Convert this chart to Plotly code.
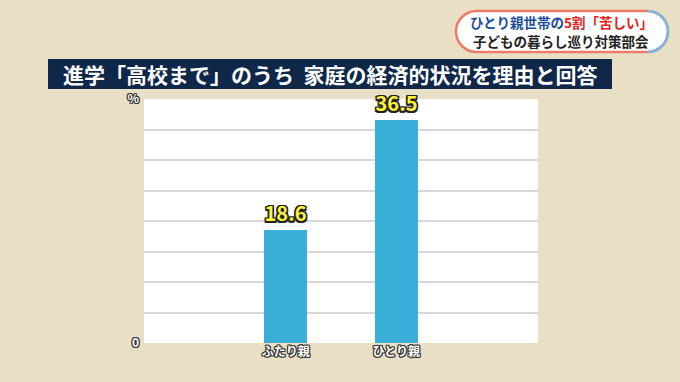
import plotly.graph_objects as go

# ---- data ----
categories = ["ふたり親", "ひとり親"]
values = [18.6, 36.5]
y_tick_values = [0, 5, 10, 15, 20, 25, 30, 35, 40]
y_tick_labels = ["0", "", "", "", "", "", "", "", "%"]
banner_title = "進学「高校まで」のうち\u00a0\u00a0家庭の経済的状況を理由と回答"
corner_line1_blue = "ひとり親世帯の"
corner_line1_red = "5割「苦しい」"
corner_line2 = "子どもの暮らし巡り対策部会"

W, H = 680, 382
L, R, T, B = 144, 538, 99, 343  # plot area in px
BG = "#E8DFC4"

def px(x):
    return (x - L) / (R - L)

def py(y):
    return (B - y) / (B - T)

FONT = "Noto Sans CJK JP"
outline = ("1px 1px 0 #333, -1px -1px 0 #333, 1px -1px 0 #333, -1px 1px 0 #333, "
           "0 1px 0 #333, 0 -1px 0 #333, 1px 0 0 #333, -1px 0 0 #333")
thick = ("1.5px 1.5px 0 #222, -1.5px -1.5px 0 #222, 1.5px -1.5px 0 #222, -1.5px 1.5px 0 #222, "
         "0 1.5px 0 #222, 0 -1.5px 0 #222, 1.5px 0 0 #222, -1.5px 0 0 #222")

fig = go.Figure()
fig.add_trace(go.Bar(
    x=categories, y=values,
    marker=dict(color="#38AED8", line=dict(width=0)),
    width=0.39,
    text=[f"{v:.1f}" for v in values],
    textposition="outside",
    cliponaxis=False,
    hoverinfo="skip",
    textfont=dict(family=FONT, size=20, color="#FFF23C", weight="bold", shadow=thick),
))

fig.update_layout(
    width=W, height=H,
    margin=dict(l=L, r=W - R, t=T, b=H - B, pad=0),
    paper_bgcolor=BG,
    plot_bgcolor="#FFFFFF",
    showlegend=False,
    bargap=0,
    xaxis=dict(
        range=[-1.283, 2.283], showgrid=False, zeroline=False, showline=False,
        ticks="", tickfont=dict(family=FONT, size=12, color="#FFFFFF", weight="bold", shadow=outline),
    ),
    yaxis=dict(
        range=[0, 40], tickvals=y_tick_values, ticktext=y_tick_labels,
        showgrid=True, gridcolor="#D8D8D8", gridwidth=1.5, zeroline=False, showline=False,
        ticks="", ticklabelstandoff=4,
        tickfont=dict(family=FONT, size=12, color="#FFFFFF", weight="bold", shadow=outline),
    ),
)

# banner
fig.add_shape(type="rect", xref="paper", yref="paper",
              x0=px(48), x1=px(612), y0=py(89), y1=py(59),
              fillcolor="#0F2749", line=dict(width=0), layer="above")
fig.add_annotation(xref="paper", yref="paper", x=px(330), y=py(74),
                   text=banner_title, showarrow=False, xanchor="center", yanchor="middle",
                   font=dict(family=FONT, size=21, color="#FFFFFF", weight="bold"))

# corner pill (pixel-sized path anchored at pill centre)
cx, cy = (456 + 668) / 2, (11 + 52) / 2
hw, hh = (668 - 456) / 2, (52 - 11) / 2
r = hh
k = 0.5523 * r
pill = (f"M{-hw + r},{hh} L{hw - r},{hh} "
        f"C{hw - r + k},{hh} {hw},{k} {hw},0 "
        f"C{hw},{-k} {hw - r + k},{-hh} {hw - r},{-hh} "
        f"L{-hw + r},{-hh} "
        f"C{-hw + r - k},{-hh} {-hw},{-k} {-hw},0 "
        f"C{-hw},{k} {-hw + r - k},{hh} {-hw + r},{hh} Z")
fig.add_shape(type="path", xref="paper", yref="paper",
              xsizemode="pixel", ysizemode="pixel", xanchor=px(cx), yanchor=py(cy),
              path=pill, fillcolor="#FFFFFF", line=dict(color="#EC7B6B", width=2.5))
arc = (f"M{hw - r},{hh} C{hw - r + k},{hh} {hw},{k} {hw},0 "
       f"C{hw},{-k} {hw - r + k},{-hh} {hw - r},{-hh}")
fig.add_shape(type="path", xref="paper", yref="paper",
              xsizemode="pixel", ysizemode="pixel", xanchor=px(cx), yanchor=py(cy),
              path=arc, line=dict(color="#7CB7E0", width=2.5))
fig.add_annotation(xref="paper", yref="paper", x=px(561), y=py(22),
                   text=f"<span style='color:#1D4E9E'>{corner_line1_blue}</span><span style='color:#E2231A'>{corner_line1_red}</span>",
                   showarrow=False, xanchor="center", yanchor="middle",
                   font=dict(family=FONT, size=13.5, weight="bold"))
fig.add_annotation(xref="paper", yref="paper", x=px(561), y=py(41),
                   text=corner_line2, showarrow=False, xanchor="center", yanchor="middle",
                   font=dict(family=FONT, size=13.5, color="#222222", weight="bold"))

fig.write_html(
    "out.html",
    config={"displayModeBar": False},
    post_script=f"document.body.style.margin='0';document.body.style.background='{BG}';",
)
